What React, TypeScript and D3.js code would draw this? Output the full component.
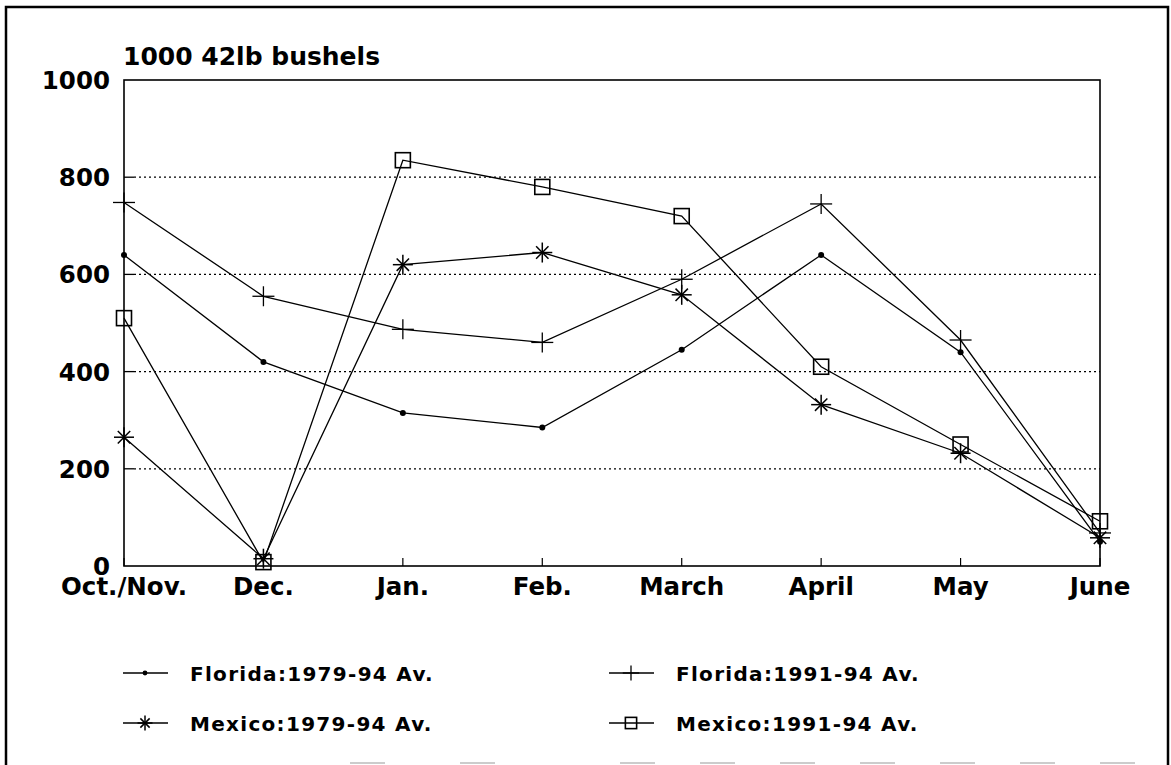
import React from "react";
import * as d3 from "d3";

const categories = ["Oct./Nov.", "Dec.", "Jan.", "Feb.", "March", "April", "May", "June"];
const florida7994 = [640, 420, 315, 285, 445, 640, 440, 50];
const florida9194 = [748, 555, 487, 460, 590, 745, 465, 68];
const mexico7994 = [265, 15, 620, 645, 558, 332, 232, 58];
const mexico9194 = [510, 8, 835, 780, 720, 410, 250, 92];
const yTicks = [0, 200, 400, 600, 800, 1000];
const gridValues = [200, 400, 600, 800];

const seriesList = [
  { name: "Florida:1979-94 Av.", values: florida7994, marker: "dot" },
  { name: "Florida:1991-94 Av.", values: florida9194, marker: "plus" },
  { name: "Mexico:1979-94 Av.", values: mexico7994, marker: "star" },
  { name: "Mexico:1991-94 Av.", values: mexico9194, marker: "square" },
];

const W = 1171;
const H = 765;
const left = 124;
const right = 1100;
const top = 80;
const bottom = 566;
const FONT = "'DejaVu Sans', Verdana, sans-serif";

function Marker({ type, x, y, s = 1 }: { type: string; x: number; y: number; s?: number }) {
  const stroke = "#000";
  if (type === "dot") return <circle cx={x} cy={y} r={3 * s} fill="#000" />;
  if (type === "plus")
    return (
      <g stroke={stroke} strokeWidth={1.3}>
        <line x1={x - 11 * s} x2={x + 11 * s} y1={y} y2={y} />
        <line x1={x} x2={x} y1={y - 10 * s} y2={y + 10 * s} />
      </g>
    );
  if (type === "star") {
    const r = 10 * s;
    const d = r * 0.62;
    return (
      <g stroke={stroke} strokeWidth={1.5}>
        <line x1={x - r} x2={x + r} y1={y} y2={y} />
        <line x1={x} x2={x} y1={y - r} y2={y + r} />
        <line x1={x - d} x2={x + d} y1={y - d} y2={y + d} />
        <line x1={x - d} x2={x + d} y1={y + d} y2={y - d} />
      </g>
    );
  }
  const h = 7.5 * s;
  return <rect x={x - h} y={y - h} width={2 * h} height={2 * h} fill="none" stroke={stroke} strokeWidth={1.6} />;
}

export default function App() {
  const x = d3.scalePoint<string>().domain(categories).range([left, right]);
  const y = d3.scaleLinear().domain([0, 1000]).range([bottom, top]);
  const line = d3
    .line<number>()
    .x((_, i) => x(categories[i]) as number)
    .y((d) => y(d));

  const legendPos = [
    { lx: 123, tx: 190, y: 673 },
    { lx: 609, tx: 676, y: 673 },
    { lx: 123, tx: 190, y: 723 },
    { lx: 609, tx: 676, y: 723 },
  ];

  return (
    <svg
      width={W}
      height={H}
      style={{ position: "absolute", left: 0, top: 0, background: "#fff" }}
      fontFamily={FONT}
    >
      <rect x={0} y={0} width={W} height={H} fill="#fff" />
      {/* outer frame */}
      <path d={`M6,${H} L6,7 L1168,7 L1168,${H}`} fill="none" stroke="#000" strokeWidth={2.5} />
      {[350, 460, 620, 700, 780, 860, 940, 1020, 1100].map((bx, i) => (
        <line key={i} x1={bx} x2={bx + 35} y1={763} y2={763} stroke="#999" strokeWidth={1} />
      ))}

      {/* gridlines */}
      {gridValues.map((v) => (
        <g key={v}>
          <line x1={left + 10} x2={right} y1={y(v)} y2={y(v)} stroke="#000" strokeWidth={1.3} strokeDasharray="2,3" />
          <line x1={left} x2={left + 10} y1={y(v)} y2={y(v)} stroke="#000" strokeWidth={1.3} />
        </g>
      ))}

      {/* plot box */}
      <rect x={left} y={top} width={right - left} height={bottom - top} fill="none" stroke="#000" strokeWidth={1.6} />

      {/* x ticks */}
      {categories.map((c) => (
        <line key={c} x1={x(c)} x2={x(c)} y1={bottom} y2={bottom - 8} stroke="#000" strokeWidth={1.2} />
      ))}

      {/* y labels */}
      {yTicks.map((v) => (
        <text key={v} x={110} y={y(v) + 9} textAnchor="end" fontSize={24.5} fontWeight="bold">
          {v}
        </text>
      ))}

      {/* x labels */}
      {categories.map((c) => (
        <text key={c} x={x(c)} y={595} textAnchor="middle" fontSize={24.5} fontWeight="bold">
          {c}
        </text>
      ))}

      {/* title */}
      <text x={123} y={65} fontSize={25} fontWeight="bold">
        1000 42lb bushels
      </text>

      {/* series */}
      {seriesList.map((s) => (
        <g key={s.name}>
          <path d={line(s.values) || ""} fill="none" stroke="#000" strokeWidth={1.3} />
          {s.values.map((v, i) => (
            <Marker key={i} type={s.marker} x={x(categories[i]) as number} y={y(v)} />
          ))}
        </g>
      ))}

      {/* legend */}
      {seriesList.map((s, i) => {
        const p = legendPos[i];
        return (
          <g key={s.name}>
            <line x1={p.lx} x2={p.lx + 45} y1={p.y} y2={p.y} stroke="#000" strokeWidth={1.3} />
            <Marker type={s.marker} x={p.lx + 22} y={p.y} s={s.marker === "dot" ? 0.8 : 0.75} />
            <text x={p.tx} y={p.y + 7.5} fontSize={20} fontWeight="bold" letterSpacing={1.3}>
              {s.name}
            </text>
          </g>
        );
      })}
    </svg>
  );
}
